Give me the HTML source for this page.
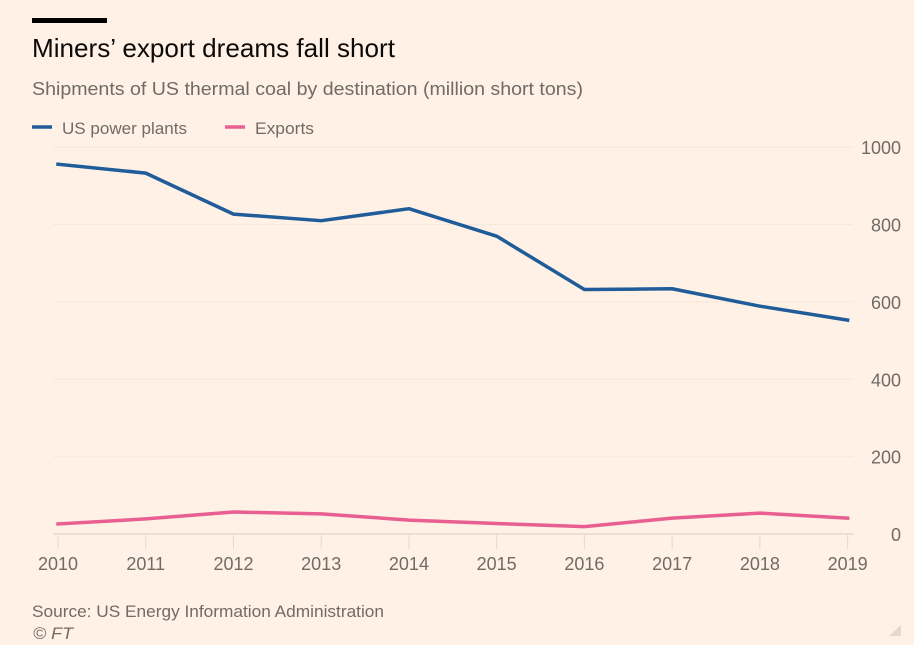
<!DOCTYPE html>
<html lang="en">
<head>
<meta charset="utf-8">
<title>Miners' export dreams fall short</title>
<style>
html,body{margin:0;padding:0;background:#fff1e5;width:914px;height:645px;overflow:hidden}
svg{display:block;filter:blur(0.35px)}
text{font-family:"Liberation Sans",sans-serif;fill:#716b66}
</style>
</head>
<body>
<svg id="chart" width="914" height="645" viewBox="0 0 914 645" xmlns="http://www.w3.org/2000/svg">
<rect width="914" height="645" fill="#fff1e5"/>
<rect x="32" y="18" width="75" height="5" fill="#000"/>
<text x="32" y="57" font-size="26" style="fill:#0d0b0a" textLength="363" lengthAdjust="spacingAndGlyphs">Miners’ export dreams fall short</text>
<text x="32" y="95" font-size="18.5" textLength="551" lengthAdjust="spacingAndGlyphs">Shipments of US thermal coal by destination (million short tons)</text>
<line x1="32" x2="52" y1="127" y2="127" stroke="#1f5c99" stroke-width="3.5"/>
<text x="62" y="134" font-size="17" textLength="125" lengthAdjust="spacingAndGlyphs">US power plants</text>
<line x1="225" x2="245" y1="127" y2="127" stroke="#ec5f92" stroke-width="3.5"/>
<text x="255" y="134" font-size="17" textLength="59" lengthAdjust="spacingAndGlyphs">Exports</text>
<g id="grid"></g>
<g id="xaxis"></g>
<g id="lines"></g>
<text x="32" y="617" font-size="17" textLength="352" lengthAdjust="spacingAndGlyphs">Source: US Energy Information Administration</text>
<text x="33" y="639" font-size="17" font-style="italic" textLength="40" lengthAdjust="spacingAndGlyphs">© FT</text>
<path d="M901 625 L901 636 L889 636 Z" fill="#e3d9cf"/>
</svg>
<script>
const years = [2010, 2011, 2012, 2013, 2014, 2015, 2016, 2017, 2018, 2019];
const powerPlants = [956, 933, 827, 810, 841, 770, 632, 634, 589, 553];
const exportsSeries = [26, 39, 57, 52, 36, 27, 19, 41, 54, 41];
const yTicks = [0, 200, 400, 600, 800, 1000];

const svgNS = 'http://www.w3.org/2000/svg';
const xScale = function (year) {
  return 58 + (year - 2010) * (847.6 - 58) / 9;
};
const yScale = function (value) {
  return 534 - value * 0.3868;
};
const make = function (tag, attrs, parent, content) {
  const node = document.createElementNS(svgNS, tag);
  Object.keys(attrs).forEach(function (key) {
    node.setAttribute(key, attrs[key]);
  });
  if (content !== undefined) node.textContent = content;
  parent.appendChild(node);
  return node;
};

const grid = document.getElementById('grid');
yTicks.forEach(function (tick) {
  const y = yScale(tick);
  const line = make('line', {
    x1: 53, x2: tick === 0 ? 854 : 853, y1: y, y2: y,
    stroke: tick === 0 ? '#e6d9ce' : '#f6e8dc',
    'stroke-width': tick === 0 ? 1.5 : 1
  }, grid);
  
  
  const label = make('text', {
    x: 901, y: y + 7, 'text-anchor': 'end', 'font-size': 18
  }, grid, String(tick));
  
  
});

const xAxis = document.getElementById('xaxis');
years.forEach(function (year) {
  const x = xScale(year);
  const tick = make('line', {
    x1: x, x2: x, y1: 535, y2: 549, stroke: '#e6d9ce', 'stroke-width': 1
  }, xAxis);
  
  
  const label = make('text', {
    x: x, y: 570, 'text-anchor': 'middle', 'font-size': 18
  }, xAxis, String(year));
  
  
});

const linesGroup = document.getElementById('lines');
const toPoints = function (values) {
  return values.map(function (value, i) {
    return xScale(years[i]) + ',' + yScale(value);
  }).join(' ');
};
const powerLine = make('polyline', {
  points: toPoints(powerPlants), fill: 'none', stroke: '#1f5c99',
  'stroke-width': 3.5, 'stroke-linejoin': 'round', 'stroke-linecap': 'square'
}, linesGroup);


const exportLine = make('polyline', {
  points: toPoints(exportsSeries), fill: 'none', stroke: '#e95f91',
  'stroke-width': 3.5, 'stroke-linejoin': 'round', 'stroke-linecap': 'square'
}, linesGroup);


</script>
</body>
</html>
